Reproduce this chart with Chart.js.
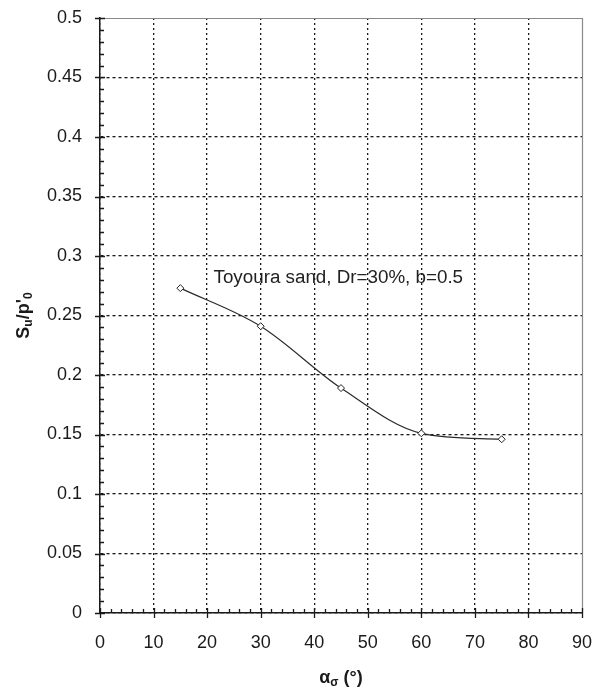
<!DOCTYPE html>
<html>
<head>
<meta charset="utf-8">
<script src="https://cdn.jsdelivr.net/npm/chart.js@4/dist/chart.umd.min.js"></script>
<style>
  html, body { margin: 0; padding: 0; background: #fff; }
  #wrap { width: 593px; height: 690px; position: relative; }
</style>
</head>
<body>
<div id="wrap"><canvas id="c" width="593" height="690"></canvas></div>
<script>
// Undrained strength ratio vs. principal stress direction
const angles = [15, 30, 45, 60, 75];
const strengthRatio = [0.273, 0.241, 0.189, 0.151, 0.146];
const xTickValues = [0, 10, 20, 30, 40, 50, 60, 70, 80, 90];
const yTickValues = [0, 0.05, 0.1, 0.15, 0.2, 0.25, 0.3, 0.35, 0.4, 0.45, 0.5];
const seriesNote = 'Toyoura sand, Dr=30%, b=0.5';
const noteAnchor = [21.2, 0.282];

const FONT = '"Liberation Sans", Arial, sans-serif';
const INK = '#1a1a1a';

// Major ticks crossing the axes plus minor ticks pointing into the plot,
// and the light frame along the top and right edges
const axisTicks = {
  id: 'axisTicks',
  beforeDatasetsDraw(chart) {
    const { ctx, chartArea: a } = chart;
    ctx.save();
    ctx.strokeStyle = '#8a8a8a';
    ctx.lineWidth = 1.2;
    ctx.beginPath();
    ctx.moveTo(a.left, Math.round(a.top) + 0.5);
    ctx.lineTo(Math.round(a.right) + 0.5, Math.round(a.top) + 0.5);
    ctx.lineTo(Math.round(a.right) + 0.5, a.bottom);
    ctx.stroke();
    ctx.restore();
  },
  afterDatasetsDraw(chart) {
    const { ctx, chartArea: a, scales: { x, y } } = chart;
    ctx.save();
    ctx.strokeStyle = INK;
    ctx.lineWidth = 1.3;
    ctx.beginPath();
    for (let v = 0; v <= 90.001; v += 2) {
      const px = Math.round(x.getPixelForValue(v)) + 0.5;
      const major = Math.abs(v % 10) < 1e-6;
      ctx.moveTo(px, a.bottom + (major ? 5 : 0));
      ctx.lineTo(px, a.bottom - (major ? 5 : 4));
    }
    for (let i = 0; i <= 50; i++) {
      const v = i / 100;
      const py = Math.round(y.getPixelForValue(v)) + 0.5;
      const major = i % 5 === 0;
      ctx.moveTo(a.left - (major ? 5 : 0), py);
      ctx.lineTo(a.left + (major ? 5 : 4), py);
    }
    ctx.stroke();
    ctx.restore();
  }
};

// Series label placed at data coordinates
const seriesLabel = {
  id: 'seriesLabel',
  afterDatasetsDraw(chart) {
    const { ctx, scales: { x, y } } = chart;
    ctx.save();
    ctx.font = '18.8px ' + FONT;
    ctx.fillStyle = '#222';
    ctx.textAlign = 'left';
    ctx.textBaseline = 'middle';
    ctx.fillText(seriesNote, x.getPixelForValue(noteAnchor[0]), y.getPixelForValue(noteAnchor[1]));
    ctx.restore();
  }
};

// Axis titles with subscripts
const axisTitles = {
  id: 'axisTitles',
  afterDraw(chart) {
    const { ctx, chartArea: a } = chart;
    const big = 'bold 18px ' + FONT;
    const small = 'bold 12px ' + FONT;
    ctx.save();
    ctx.fillStyle = INK;
    ctx.textBaseline = 'alphabetic';
    ctx.textAlign = 'left';

    // x title: α_σ (°)
    const parts = [['α', big, 0], ['σ', small, 3], [' (°)', big, 0]];
    let w = 0;
    parts.forEach(p => { ctx.font = p[1]; w += ctx.measureText(p[0]).width; });
    let cx = (a.left + a.right) / 2 - w / 2;
    const by = 683;
    parts.forEach(p => { ctx.font = p[1]; ctx.fillText(p[0], cx, by + p[2]); cx += ctx.measureText(p[0]).width; });

    // y title: S_u/p'_0 rotated
    const yparts = [['S', big, 0], ['u', small, 3], ["/p'", big, 0], ['0', small, 3]];
    ctx.translate(29, (a.top + a.bottom) / 2);
    ctx.rotate(-Math.PI / 2);
    w = 0;
    yparts.forEach(p => { ctx.font = p[1]; w += ctx.measureText(p[0]).width; });
    cx = -w / 2;
    yparts.forEach(p => { ctx.font = p[1]; ctx.fillText(p[0], cx, p[2]); cx += ctx.measureText(p[0]).width; });
    ctx.restore();
  }
};

// grid lines on the outer frame are drawn separately in a lighter tone
const innerGridColor = (maxVal) => (c) => (c.tick && Math.abs(c.tick.value - maxVal) < 1e-9) ? 'rgba(0,0,0,0)' : INK;

// keep the plot frame fixed: no extra room reserved for overhanging edge labels
const noEdgePadding = (s) => { s.paddingTop = 0; s.paddingBottom = 0; s.paddingLeft = 0; s.paddingRight = 0; };

new Chart(document.getElementById('c'), {
  type: 'line',
  data: {
    datasets: [{
      data: angles.map((a, i) => ({ x: a, y: strengthRatio[i] })),
      borderColor: '#2a2a2a',
      borderWidth: 1.2,
      cubicInterpolationMode: 'monotone',
      pointStyle: 'rectRot',
      pointRadius: 3.5,
      pointBackgroundColor: '#fff',
      pointBorderColor: '#222',
      pointBorderWidth: 1,
      fill: false
    }]
  },
  options: {
    responsive: false,
    animation: false,
    layout: { autoPadding: false, padding: { top: 18, right: 11, left: 0, bottom: 0 } },
    plugins: { legend: { display: false }, tooltip: { enabled: false } },
    scales: {
      x: {
        type: 'linear',
        min: 0, max: 90,
        afterBuildTicks: s => { s.ticks = xTickValues.map(v => ({ value: v })); },
        afterFit: s => { s.height = 77; noEdgePadding(s); },
        grid: { color: innerGridColor(90), lineWidth: 1.3, drawTicks: false },
        border: { display: true, color: INK, width: 1.5, dash: [2, 3] },
        ticks: { color: INK, font: { family: FONT, size: 18 }, padding: 19, maxRotation: 0 }
      },
      y: {
        type: 'linear',
        min: 0, max: 0.5,
        afterBuildTicks: s => { s.ticks = yTickValues.map(v => ({ value: v })); },
        afterFit: s => { s.width = 100; noEdgePadding(s); },
        grid: { color: innerGridColor(0.5), lineWidth: 1.3, drawTicks: false },
        border: { display: true, color: INK, width: 1.5, dash: [3, 3] },
        ticks: {
          color: INK, font: { family: FONT, size: 18 }, padding: 18,
          callback: v => String(+Number(v).toFixed(2))
        }
      }
    }
  },
  plugins: [axisTicks, seriesLabel, axisTitles]
});
</script>
</body>
</html>
